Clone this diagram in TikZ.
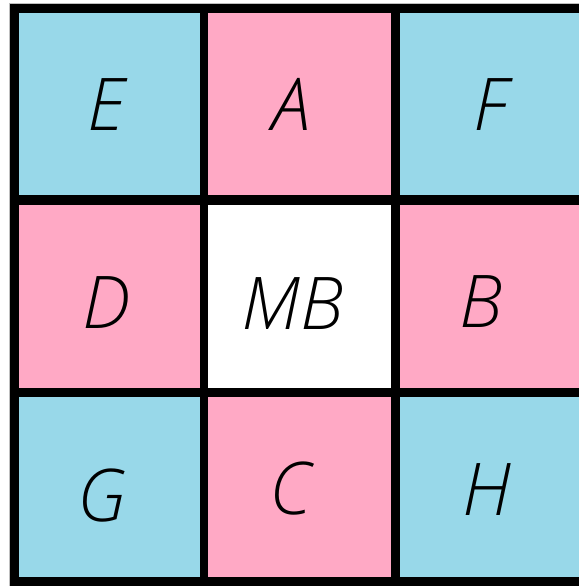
\documentclass[tikz,border=0pt]{standalone}
\usepackage{fontspec}
\newfontfamily\lblfont{OpenSans-LightItalic.ttf}
\definecolor{cellblue}{RGB}{152,216,233}
\definecolor{cellpink}{RGB}{255,169,197}
\begin{document}
\begin{tikzpicture}[x=1bp,y=-1bp,
  lbl/.style={font=\lblfont\fontsize{73}{73}\selectfont, inner sep=0pt, anchor=center},
  gridline/.style={fill=black}]
\useasboundingbox (0,0) rectangle (579,586);
\fill[white] (0,0) rectangle (579,586);
\draw[gray!50, line width=1bp] (9.5,3.5) -- (579,3.5);
\draw[gray!50, line width=1bp] (9.5,3.5) -- (9.5,586);
% cells
\fill[cellblue] (19,13) rectangle (200,195);
\fill[cellpink] (208,13) rectangle (391,195);
\fill[cellblue] (400,13) rectangle (579,195);
\fill[cellpink] (19,205) rectangle (200,388);
\fill[white]    (208,205) rectangle (391,388);
\fill[cellpink] (400,205) rectangle (579,388);
\fill[cellblue] (19,397) rectangle (200,577);
\fill[cellpink] (208,397) rectangle (391,577);
\fill[cellblue] (400,397) rectangle (579,577);
% grid lines
\fill[gridline] (10,4) rectangle (579,13);
\fill[gridline] (10,195) rectangle (579,205);
\fill[gridline] (10,388) rectangle (579,397);
\fill[gridline] (10,577) rectangle (579,586);
\fill[gridline] (10,4) rectangle (19,586);
\fill[gridline] (200,4) rectangle (208,586);
\fill[gridline] (391,4) rectangle (400,586);
% labels
\node[lbl] (E) at (106,105) {E};
\node[lbl] (A) at (291,104) {A};
\node[lbl] (F) at (491,105) {F};
\node[lbl] (D) at (106,303) {D};
\node[lbl] (MB) at (292,304) {MB};
\node[lbl] (B) at (481,302) {B};
\node[lbl] (G) at (102,496) {G};
\node[lbl] (C) at (290,489) {C};
\node[lbl] (H) at (487,490) {H};
\end{tikzpicture}
\end{document}
